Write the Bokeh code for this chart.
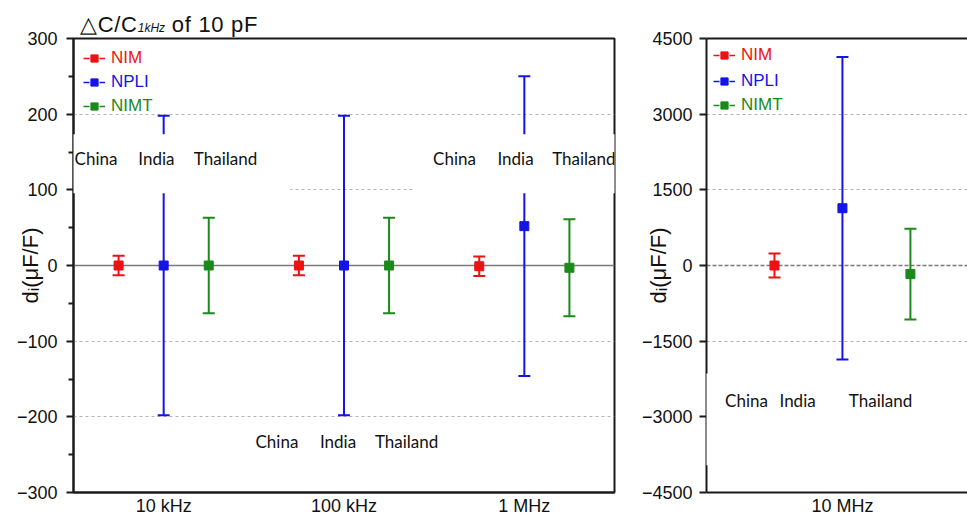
import numpy as np
from bokeh.plotting import figure
from bokeh.models import (Range1d, FixedTicker, ColumnDataSource, Whisker, TeeHead, Legend,
                          LegendItem, Label, BoxAnnotation, Span, LinearAxis, Div)
from bokeh.layouts import row, column
from bokeh.embed import file_html
from bokeh.resources import INLINE

# ---------------- data ----------------
series_names = ["NIM", "NPLI", "NIMT"]
countries = ["China", "India", "Thailand"]

freqs_left = ["10 kHz", "100 kHz", "1 MHz"]
nim_left = [0, 0, -1]
nim_left_err = [13, 13, 13]
npli_left = [0, 0, 52]
npli_left_err = [198, 198, 198]
nimt_left = [0, 0, -3]
nimt_left_err = [63, 63, 64]
yticks_left = [-300, -200, -100, 0, 100, 200, 300]

freqs_right = ["10 MHz"]
nim_right = [0]
nim_right_err = [240]
npli_right = [1135]
npli_right_err = [3000]
nimt_right = [-170]
nimt_right_err = [900]
yticks_right = [-4500, -3000, -1500, 0, 1500, 3000, 4500]

# ---------------- style ----------------
colors = ["#ee1111", "#1414e6", "#1a8a1a"]
offsets = [-0.25, 0.0, 0.25]
FONT = "Liberation Sans"
DIV_H = 26
H = 518 - DIV_H
FRAME_H = 455
W1, W2 = 626, 341
BT, BB = 12, 25


def make_fig(width, bl, br, xr, yr):
    p = figure(width=width, height=H, x_range=xr, y_range=yr, output_backend="svg",
               toolbar_location=None, tools="", min_border_left=bl, min_border_right=br,
               min_border_top=BT, min_border_bottom=BB, background_fill_color="white",
               border_fill_color="white")
    p.xgrid.visible = False
    p.ygrid.grid_line_color = "#b4b4b4"
    p.ygrid.grid_line_dash = "3 3"
    p.ygrid.grid_line_width = 1
    for ax in (p.xaxis[0], p.yaxis[0]):
        ax.axis_line_width = 2
        ax.axis_line_color = "#1a1a1a"
        ax.major_label_text_font = FONT
        ax.major_label_text_font_size = "18px"
        ax.major_label_text_color = "#111111"
        ax.major_tick_line_width = 2
        ax.minor_tick_line_width = 2
        ax.major_tick_line_color = "#1a1a1a"
        ax.minor_tick_line_color = "#1a1a1a"
        ax.major_tick_in = 0
        ax.minor_tick_in = 0
    p.yaxis.major_tick_out = 7
    p.yaxis.minor_tick_out = 5
    p.yaxis.major_label_standoff = 9
    p.yaxis.axis_label = "dᵢ(μF/F)"
    p.yaxis.axis_label_text_font = FONT
    p.yaxis.axis_label_text_font_size = "22px"
    p.yaxis.axis_label_text_font_style = "normal"
    p.yaxis.axis_label_text_color = "#111111"
    p.xaxis.major_tick_out = 0
    p.xaxis.major_tick_line_color = None
    p.xaxis.minor_tick_line_color = None
    p.xaxis.major_label_standoff = 3
    return p


def draw_series(p, freqs, vals, errs, legend_x, legend_tops, zero_dash="solid"):
    zero = Span(location=0, dimension="width", line_color="#7a7a7a", line_width=1.5,
                line_dash=zero_dash, level="underlay")
    p.add_layout(zero)
    centers = [i + 0.5 for i in range(len(freqs))]
    for k, (name, c, off) in enumerate(zip(series_names, colors, offsets)):
        v, e = vals[k], errs[k]
        src = ColumnDataSource(dict(
            x=[cx + off for cx in centers], y=v,
            lower=[a - b for a, b in zip(v, e)], upper=[a + b for a, b in zip(v, e)]))
        wh = Whisker(base="x", upper="upper", lower="lower", source=src, dimension="height",
                     line_color=c, line_width=2,
                     upper_head=TeeHead(size=12, line_color=c, line_width=2),
                     lower_head=TeeHead(size=12, line_color=c, line_width=2))
        p.add_layout(wh)
        mk = p.scatter("x", "y", source=src, marker="square", size=9, fill_color=c, line_color=c)
        ln = p.line(x=[np.nan], y=[np.nan], line_color=c, line_width=1.5, line_dash="6 10")
        leg = Legend(items=[LegendItem(label=name, renderers=[ln, mk])],
                     location=(legend_x, FRAME_H - legend_tops[k]), padding=0, margin=0,
                     spacing=0, border_line_color=None, background_fill_alpha=0,
                     label_text_color=c, label_text_font=FONT, label_text_font_size="17px",
                     glyph_width=22, glyph_height=18, label_height=18, label_standoff=6)
        p.add_layout(leg)
    ax = p.below[0]
    ax.ticker = FixedTicker(ticks=centers)
    ax.major_label_overrides = {cx: f for cx, f in zip(centers, freqs)}


def add_cover(p, l, r, b, t):
    p.add_layout(BoxAnnotation(left=l, right=r, bottom=b, top=t, fill_color="white",
                               fill_alpha=1, line_color=None, level="overlay"))


def add_names(p, xs, y):
    for name, x in zip(countries, xs):
        p.add_layout(Label(x=x, y=y, text=name, text_align="center", text_baseline="middle",
                           text_font="Lato", text_font_size="17px", text_color="#111111",
                           level="overlay"))


# ---------------- title ----------------
title = Div(
    text=('<div style="font-family:\'Liberation Sans\',Arial,sans-serif;font-size:22px;'
          'letter-spacing:0.7px;color:#111111;padding-left:80px;padding-top:14px;'
          'line-height:22px;white-space:nowrap;overflow:visible">'
          '△C/C<span style="font-size:12px;font-style:italic;letter-spacing:0">1kHz</span>'
          ' of 10 pF</div>'),
    width=967, height=DIV_H, margin=0, styles={"overflow": "visible", "z-index": "5"})

# ---------------- left panel ----------------
p1 = make_fig(W1, 73, 12, Range1d(0, 3), Range1d(-300, 300))
p1.outline_line_color = "#1a1a1a"
p1.outline_line_width = 2
p1.outline_line_alpha = 1
p1.yaxis.ticker = FixedTicker(ticks=yticks_left, minor_ticks=[-250, -150, -50, 50, 150, 250])
p1.yaxis.axis_label_standoff = -29
p1.ygrid.ticker = FixedTicker(ticks=[-200, -100, 100, 200])
draw_series(p1, freqs_left, [nim_left, npli_left, nimt_left],
            [nim_left_err, npli_left_err, nimt_left_err], 10, [31, 55, 79])

add_cover(p1, -0.03, 1.203, 95.6, 173.4)
add_cover(p1, 1.88, 3.1, 95.6, 173.4)
add_names(p1, [0.125, 0.46, 0.843], 141.8)
add_names(p1, [2.113, 2.451, 2.83], 141.8)
add_names(p1, [1.128, 1.467, 1.847], -232.4)

# ---------------- right panel ----------------
p2 = make_fig(W2, 80, 0, Range1d(0, 0.96), Range1d(-4500, 4500))
p2.outline_line_color = None
p2.yaxis.ticker = FixedTicker(ticks=yticks_right, minor_ticks=[])
p2.yaxis.minor_tick_line_color = None
p2.yaxis.major_label_standoff = 7
p2.yaxis.axis_label_standoff = -32
p2.ygrid.ticker = FixedTicker(ticks=[-3000, -1500, 1500, 3000])
draw_series(p2, freqs_right, [nim_right, npli_right, nimt_right],
            [nim_right_err, npli_right_err, nimt_right_err], 7, [28, 54, 78], zero_dash="4 2")
top_axis = LinearAxis(ticker=FixedTicker(ticks=[]), major_tick_line_color=None,
                      minor_tick_line_color=None, major_tick_out=0, minor_tick_out=0,
                      major_label_standoff=0, axis_line_width=2, axis_line_color="#1a1a1a")
p2.add_layout(top_axis, "above")
add_cover(p2, -0.012, 1.0, -3962, -2142)
add_names(p2, [0.147, 0.335, 0.64], -2676)

layout = column(title, row(p1, p2))
open("out.html", "w").write(file_html(layout, INLINE))
